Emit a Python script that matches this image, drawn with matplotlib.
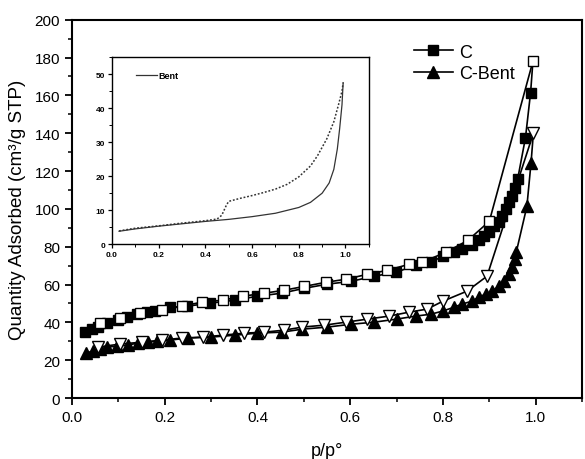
import matplotlib
matplotlib.use('Agg')
import matplotlib.pyplot as plt
from matplotlib.ticker import MultipleLocator

plt.rcParams['font.family'] = ['Liberation Sans', 'DejaVu Sans']

# C - ადსორბცია (შევსებული კვადრატები)
c_ads_x = [0.028, 0.043, 0.056, 0.075, 0.099, 0.118, 0.14, 0.161, 0.178, 0.211, 0.247, 0.297,
           0.351, 0.40, 0.452, 0.501, 0.551, 0.602, 0.652, 0.699, 0.742, 0.774, 0.80, 0.824,
           0.841, 0.863, 0.877, 0.888, 0.90, 0.91, 0.92, 0.927, 0.935, 0.942, 0.948, 0.955,
           0.961, 0.978, 0.989, 0.994]
c_ads_y = [34.8, 36.4, 37.5, 39.6, 41.2, 42.7, 44.3, 45.4, 46, 48, 48.5, 50.1,
           51.7, 53.8, 55.4, 58, 60.2, 61.7, 64.4, 66.5, 70.2, 71.8, 75, 77,
           78.6, 80.7, 83.4, 85.5, 88, 91, 93, 96, 99.7, 103.4, 106.6, 110.8,
           115.6, 137.7, 161.5, 178]

# C - დესორბცია (ცარიელი კვადრატები)
c_des_x = [0.994, 0.90, 0.854, 0.806, 0.755, 0.727, 0.68, 0.637, 0.591, 0.548, 0.501, 0.458,
           0.415, 0.368, 0.325, 0.28, 0.237, 0.194, 0.146, 0.103, 0.06]
c_des_y = [178, 93.4, 83.4, 77, 71.8, 70.7, 67.5, 65.4, 62.8, 61.2, 59, 57,
           55.4, 53.8, 51.7, 50.7, 48.5, 46.4, 44.9, 42.2, 39.6]

# C-Bent - ადსორბცია (შევსებული სამკუთხედები)
cb_ads_x = [0.03, 0.045, 0.06, 0.075, 0.097, 0.12, 0.142, 0.163, 0.183, 0.211, 0.25, 0.30,
            0.351, 0.40, 0.452, 0.497, 0.551, 0.602, 0.652, 0.70, 0.741, 0.774, 0.80, 0.824,
            0.84, 0.863, 0.877, 0.892, 0.906, 0.92, 0.931, 0.942, 0.949, 0.955, 0.958,
            0.981, 0.99, 0.995]
cb_ads_y = [23.7, 24.8, 25.9, 26.9, 27.4, 28, 29, 29.5, 30.1, 30.6, 31.7, 32.2,
            33.2, 34.3, 34.8, 36.4, 37.5, 39, 40.1, 41.7, 43.3, 44.3, 46, 48,
            49.6, 51.2, 53.3, 54.9, 56.5, 59, 61.7, 65.4, 69, 73.3, 77,
            101.3, 124.5, 140]

# C-Bent - დესორბცია (ცარიელი სამკუთხედები)
cb_des_x = [0.995, 0.895, 0.852, 0.80, 0.766, 0.727, 0.684, 0.637, 0.591, 0.544, 0.497, 0.458,
            0.415, 0.372, 0.325, 0.282, 0.237, 0.194, 0.15, 0.103, 0.056]
cb_des_y = [140, 64.4, 56.5, 51.2, 47, 45.4, 43.3, 41.7, 40.1, 38.5, 37.5, 35.9,
            34.8, 34.3, 33.2, 32.2, 31.7, 30.6, 29.5, 28.5, 26.9]

# Bent (ჩასმული გრაფიკი)
bent_ads_x = [0.03, 0.1, 0.2, 0.3, 0.4, 0.5, 0.6, 0.7, 0.8, 0.85, 0.9, 0.93, 0.95, 0.965,
              0.975, 0.985, 0.99]
bent_ads_y = [3.8, 4.5, 5.3, 6.0, 6.7, 7.3, 8.1, 9.1, 10.8, 12.3, 15, 18, 22, 28,
              34, 41, 47.5]
bent_des_x = [0.03, 0.1, 0.2, 0.3, 0.4, 0.45, 0.47, 0.49, 0.5, 0.55, 0.6, 0.65, 0.7, 0.75,
              0.8, 0.85, 0.88, 0.92, 0.95, 0.97, 0.985, 0.99]
bent_des_y = [3.9, 4.7, 5.4, 6.2, 6.9, 7.4, 8.5, 11.5, 12.6, 13.5, 14.3, 15.2, 16.2, 17.6,
              19.8, 23, 26, 31, 36, 41, 45, 47.5]

fig = plt.figure(figsize=(5.85, 4.6), dpi=100)
ax = fig.add_axes([0.123, 0.1326, 0.872, 0.8224])

ms = 7.5
ax.plot(c_ads_x, c_ads_y, color='black', lw=1.2, marker='s', ms=ms, mfc='black', mec='black',
        markevery=list(range(len(c_ads_x) - 1)), label='C')
ax.plot(c_des_x, c_des_y, color='black', lw=1.2, marker='s', ms=ms, mfc='white', mec='black')
ax.plot(cb_ads_x, cb_ads_y, color='black', lw=1.2, marker='^', ms=ms + 0.5, mfc='black', mec='black',
        markevery=list(range(len(cb_ads_x) - 1)), label='C-Bent')
ax.plot(cb_des_x, cb_des_y, color='black', lw=1.2, marker='v', ms=ms + 0.5, mfc='white', mec='black')

ax.set_xlim(0, 1.1)
ax.set_ylim(0, 200)
ax.xaxis.set_major_locator(MultipleLocator(0.2))
ax.xaxis.set_minor_locator(MultipleLocator(0.1))
ax.yaxis.set_major_locator(MultipleLocator(20))
ax.yaxis.set_minor_locator(MultipleLocator(10))
ax.tick_params(which='major', direction='out', length=5, width=1.3, labelsize=11)
ax.tick_params(which='minor', direction='out', length=3, width=1.1)
for s in ax.spines.values():
    s.set_linewidth(1.5)

ax.set_xlabel('p/p°', fontsize=13, labelpad=13)
ax.set_ylabel('Quantity Adsorbed (cm³/g STP)', fontsize=13.5, labelpad=6)

ax.legend(loc='upper left', bbox_to_anchor=(0.645, 0.97), frameon=False, fontsize=13,
          handlelength=2.2, handletextpad=0.3, labelspacing=0.25, borderpad=0.2)

# ჩასმული გრაფიკი - Bent
ins = fig.add_axes([0.1915, 0.467, 0.439, 0.4065])
ins.plot(bent_ads_x, bent_ads_y, color='#333333', lw=0.9, label='Bent')
ins.plot(bent_des_x, bent_des_y, color='#333333', lw=1.1, linestyle=(0, (1.2, 1.2)))
ins.set_xlim(0, 1.1)
ins.set_ylim(0, 55)
ins.xaxis.set_major_locator(MultipleLocator(0.2))
ins.xaxis.set_minor_locator(MultipleLocator(0.1))
ins.yaxis.set_major_locator(MultipleLocator(10))
ins.yaxis.set_minor_locator(MultipleLocator(5))
ins.tick_params(which='major', direction='out', length=3, width=0.9, labelsize=6, pad=2)
ins.tick_params(which='minor', direction='out', length=2, width=0.7)
for lab in ins.get_xticklabels() + ins.get_yticklabels():
    lab.set_fontweight('bold')
for s in ins.spines.values():
    s.set_linewidth(1.0)
ins.legend(loc='upper left', frameon=False, prop={'size': 6.5, 'weight': 'bold'},
           handlelength=2.4, handletextpad=0.1, bbox_to_anchor=(0.06, 0.97))

fig.savefig('out.png', dpi=100)
